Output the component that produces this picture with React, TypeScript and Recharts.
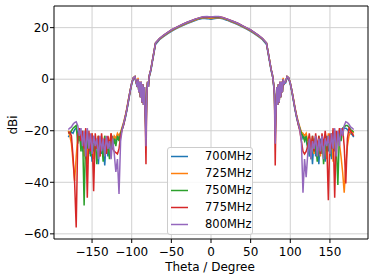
import React from 'react'
import {
  LineChart,
  Line,
  XAxis,
  YAxis,
  CartesianGrid,
  ReferenceArea
} from 'recharts'

// Theta grid (degrees), finer around the shoulder nulls
const theta = [
  -180, -178, -176, -174, -172, -170, -168, -166, -164, -162, -160, -158, -156, -154, -152, -150, -148, -146,
  -144, -142, -140, -138, -136, -134, -132, -130, -128, -126, -124, -122, -120, -118, -116, -114, -112, -110,
  -108, -106, -104, -102, -100, -98, -96, -94,
  -93, -92, -91, -90, -89, -88, -87, -86, -85, -84, -83, -82, -81, -80, -79, -78, -77,
  -76, -74, -72, -70,
  -65, -60, -55, -50, -45, -40, -35, -30, -25, -20, -15, -10, -5, 0, 5, 10, 15, 20, 25, 30, 35, 40, 45, 50, 55, 60, 65,
  70, 72, 74, 76,
  77, 78, 79, 80, 81, 82, 83, 84, 85, 86, 87, 88, 89, 90, 91, 92, 93,
  94, 96, 98, 100, 102, 104, 106, 108,
  110, 112, 114, 116, 118, 120, 122, 124, 126, 128, 130, 132, 134, 136, 138, 140, 142, 144,
  146, 148, 150, 152, 154, 156, 158, 160, 162, 164, 166, 168, 170, 172, 174, 176, 178, 180
]

const g700 = [
  -22.5, -21.5, -20.5, -21, -19.5, -19, -21, -24, -21, -28, -22, -31, -21, -29, -23, -32, -22, -27,
  -24, -33, -23, -29, -25, -33.5, -23, -30, -24, -28, -22, -25, -23, -22, -23, -21, -19.5, -17.5,
  -15, -12, -8.5, -5, -2, 0, 0.5, -2,
  -3, 0, -5, -1.5, -7, -1, -9, -2.5, -10, -3, -12, -17, -6, -1.5, -3, 0.5, 2,
  3, 6.5, 10, 13.5,
  15.3, 16.5, 17.6, 18.6, 19.4, 20.2, 20.9, 21.6, 22.2, 22.8, 23.3, 23.6, 23.5, 23.3, 23.5, 23.7, 23.4, 22.9, 22.3, 21.7, 21, 20.2, 19.4, 18.6, 17.6, 16.5, 15.3,
  13.5, 10, 6.5, 3,
  2, 0.5, -2.5, -6, -16, -12, -3, -10, -2.5, -9, -1, -7, -1.5, -5, 0, -2, -1.5,
  -1.5, 0.5, 0, -2, -5, -8.5, -12, -15,
  -17.5, -19.5, -21, -23, -22, -24, -26, -30, -24, -33, -23, -30, -24, -33, -23, -29, -24, -32,
  -22, -28, -23, -31, -21, -28, -22, -24, -21, -20, -20, -19, -19, -19.5, -20.5, -21, -21.5, -22.5
]

const g725 = [
  -20, -22, -25, -32, -39.5, -30, -22, -20, -26, -21, -30, -20, -33, -22, -28, -21, -31, -23,
  -27, -22, -30, -23, -26, -22, -29, -23, -26, -21, -25, -22, -23, -21, -22, -20.5, -18.5, -16.5,
  -14, -11, -7.5, -4.5, -1.5, 0.5, 1, -1.5,
  -3, 0.5, -5, -1, -7, -1, -9, -2, -10, -3, -13, -20, -6, -1, -3, 1, 2.5,
  3.5, 7, 10.5, 14,
  15.5, 16.7, 17.8, 18.8, 19.6, 20.4, 21.1, 21.8, 22.4, 23, 23.5, 23.8, 23.8, 23.6, 23.8, 23.9, 23.6, 23.1, 22.5, 21.9, 21.2, 20.4, 19.6, 18.8, 17.8, 16.7, 15.5,
  14, 10.5, 7, 3.5,
  2.5, 0.5, -2, -6, -20, -12, -3, -10, -2, -9, -1, -7, -1, -5, 0.5, -2, -1,
  -1, 1, 0.5, -1.5, -4.5, -7.5, -11, -14,
  -16.5, -18.5, -20.5, -21, -22, -21, -24, -22, -27, -23, -29, -22, -26, -23, -30, -22, -27, -23,
  -31, -21, -28, -22, -32, -20, -29, -21, -25, -30, -36, -44, -33, -26, -22, -20.5, -20, -21
]

const g750 = [
  -20.5, -21, -20, -19, -18.5, -18, -25, -19, -28, -20, -49, -20, -27, -21, -30, -22, -28, -24,
  -33, -22, -29, -24, -32, -22, -28, -25, -31, -22, -27, -23, -26, -22, -24, -21, -19, -17,
  -14.5, -11.5, -8, -4.5, -1.5, 0.5, 1, -1.5,
  -3, 0, -5, -1, -7, -1.5, -9, -2, -10, -3, -13, -22, -6, -1, -3, 1, 2.5,
  3.5, 7, 10.5, 14,
  15.7, 16.9, 18, 19, 19.8, 20.6, 21.3, 22, 22.6, 23.2, 23.7, 24, 24, 23.9, 24, 24.1, 23.8, 23.3, 22.7, 22.1, 21.4, 20.6, 19.8, 19, 18, 16.9, 15.7,
  14, 10.5, 7, 3.5,
  2.5, 0.5, -2, -6, -22, -12, -3, -10, -2, -9, -1.5, -7, -1, -5, 0, -2, -1,
  -1, 1, 0.5, -1.5, -4.5, -8, -11.5, -14.5,
  -17, -19, -21, -22, -24, -22, -27, -23, -31, -22, -28, -25, -32, -22, -29, -23, -33, -24,
  -28, -22, -30, -21, -27, -20, -26, -41, -20, -24, -19, -18.5, -18, -18, -18.5, -19.5, -20, -20.5
]

const g775 = [
  -21, -20.5, -22, -30, -40, -57.5, -22, -19, -24, -20, -27, -19, -46, -20, -28, -21, -43.5, -21,
  -27, -22, -30, -21, -27, -23, -29, -22, -26, -21, -27, -28, -28.5, -29, -27, -22, -19.5, -17.5,
  -14.5, -11.5, -8, -4.5, -1.5, 0.5, 1, -1.5,
  -3, 0, -5, -1, -7, -1, -9, -2, -10, -3, -14, -33, -6, -1, -3, 1, 2.5,
  3.5, 7, 10.5, 14,
  15.8, 17, 18.1, 19.1, 19.9, 20.7, 21.4, 22.1, 22.7, 23.3, 23.8, 24.1, 24.2, 24.1, 24.2, 24.2, 23.9, 23.4, 22.8, 22.2, 21.5, 20.7, 19.9, 19.1, 18.1, 17, 15.8,
  14, 10.5, 7, 3.5,
  2.5, 0.5, -2, -6, -33.5, -12, -3, -10, -2, -9, -1, -7, -1, -5, 0, -2, -1,
  -1, 1, 0.5, -1.5, -4.5, -8, -11.5, -14.5,
  -17.5, -20, -24, -28, -29, -28, -26, -21, -27, -22, -28, -21, -27, -22, -29, -21, -26, -20,
  -25, -47, -21, -27, -19, -46, -20, -24, -19, -22, -19, -26, -40.5, -23, -19, -20, -21, -22
]

const g800 = [
  -19.5, -19, -18.5, -17.5, -16.8, -16.5, -18, -22, -19, -26, -20, -30, -19, -27, -21, -29, -22, -26,
  -23, -31, -22, -28, -23, -30, -22, -27, -24, -31, -23, -29, -36, -31, -44.5, -24, -19.5, -17,
  -14.5, -11.5, -8, -4.5, -1.5, 0.5, 1, -1.5,
  -3, 0, -5, -1, -7, -1, -9, -2, -10, -3, -14, -26, -6, -1, -3, 1, 2.5,
  3.5, 7, 10.5, 14,
  15.8, 17, 18.1, 19.1, 19.9, 20.7, 21.4, 22.1, 22.7, 23.3, 23.8, 24.2, 24.3, 24.1, 24.3, 24.3, 23.9, 23.4, 22.8, 22.2, 21.5, 20.7, 19.9, 19.1, 18.1, 17, 15.8,
  14, 10.5, 7, 3.5,
  2.5, 0.5, -2, -6, -25, -12, -3, -10, -2, -9, -1, -7, -1, -5, 0, -2, -1,
  -1, 1, 0.5, -1.5, -4.5, -8, -11.5, -14.5,
  -17, -19.5, -24, -44, -31, -38, -29, -23, -31, -24, -27, -22, -30, -23, -28, -22, -31, -23,
  -26, -22, -29, -21, -27, -19, -30, -20, -26, -19, -22, -18, -16.5, -16.8, -17.5, -18.5, -19, -19.5
]

const seriesNames = ['700MHz', '725MHz', '750MHz', '775MHz', '800MHz']
const seriesValues = [g700, g725, g750, g775, g800]
const xTicks = [-150, -100, -50, 0, 50, 100, 150]
const yTicks = [-60, -40, -20, 0, 20]

const colors = ['#1f77b4', '#ff7f0e', '#2ca02c', '#d62728', '#9467bd']
const font = '"DejaVu Sans", sans-serif'

const data = theta.map((t, i) => {
  const row: Record<string, number> = { theta: t }
  seriesNames.forEach((name, k) => {
    row[name] = seriesValues[k][i]
  })
  return row
})

// matplotlib-style minus sign
const fmt = (v: number) => String(v).replace('-', '\u2212')

const LegendBox = () => (
  <div
    style={{
      position: 'absolute',
      left: 167,
      top: 147,
      width: 86,
      height: 88,
      boxSizing: 'border-box',
      border: '1px solid #cccccc',
      borderRadius: 3,
      background: 'rgba(255,255,255,0.85)',
      fontFamily: font,
      fontSize: 11.5,
      color: '#000',
      lineHeight: 1
    }}
  >
    {seriesNames.map((name, i) => (
      <div key={name} style={{ height: 17, display: 'flex', alignItems: 'center' }}>
        <svg width={37} height={17} style={{ display: 'block' }}>
          <line x1={3} x2={20} y1={8.5} y2={8.5} stroke={colors[i]} strokeWidth={1.5} />
        </svg>
        <span>{name}</span>
      </div>
    ))}
  </div>
)

export default function App() {
  return (
    <div style={{ position: 'relative', width: 374, height: 280 }}>
      <style>{'body{margin:0}'}</style>
      <LineChart
        width={374}
        height={280}
        data={data}
        margin={{ top: 6, right: 6, left: 0, bottom: 0 }}
        style={{ fontFamily: font }}
      >
        <CartesianGrid stroke="#d0d0d0" strokeWidth={1} horizontalValues={yTicks} verticalValues={xTicks} />
        <XAxis
          dataKey="theta"
          type="number"
          domain={[-198, 198]}
          ticks={xTicks}
          tickFormatter={fmt}
          allowDataOverflow
          height={41}
          tickSize={4}
          tickMargin={4}
          axisLine={false}
          tickLine={{ stroke: '#000' }}
          tick={{ fill: '#000', fontSize: 12, fontFamily: font }}
          label={{
            content: () => (
              <text x={210} y={271} textAnchor="middle" fontSize={12} fontFamily={font} fill="#000">
                Theta / Degree
              </text>
            )
          }}
        />
        <YAxis
          type="number"
          domain={[-62, 28.4]}
          ticks={yTicks}
          tickFormatter={fmt}
          allowDataOverflow
          width={54}
          tickSize={4}
          tickMargin={1}
          axisLine={false}
          tickLine={{ stroke: '#000' }}
          tick={{ fill: '#000', fontSize: 12, fontFamily: font }}
          label={{
            content: () => (
              <text
                x={13}
                y={125}
                transform="rotate(-90 13 125)"
                textAnchor="middle"
                dominantBaseline="central"
                fontSize={12}
                fontFamily={font}
                fill="#000"
              >
                dBi
              </text>
            )
          }}
        />
        <ReferenceArea x1={-198} x2={198} y1={-62} y2={28.4} fill="none" stroke="#000" strokeWidth={1} />
        {seriesNames.map((name, i) => (
          <Line
            key={name}
            type="linear"
            dataKey={name}
            stroke={colors[i]}
            strokeWidth={1.5}
            dot={false}
            isAnimationActive={false}
          />
        ))}
      </LineChart>
      <LegendBox />
    </div>
  )
}
